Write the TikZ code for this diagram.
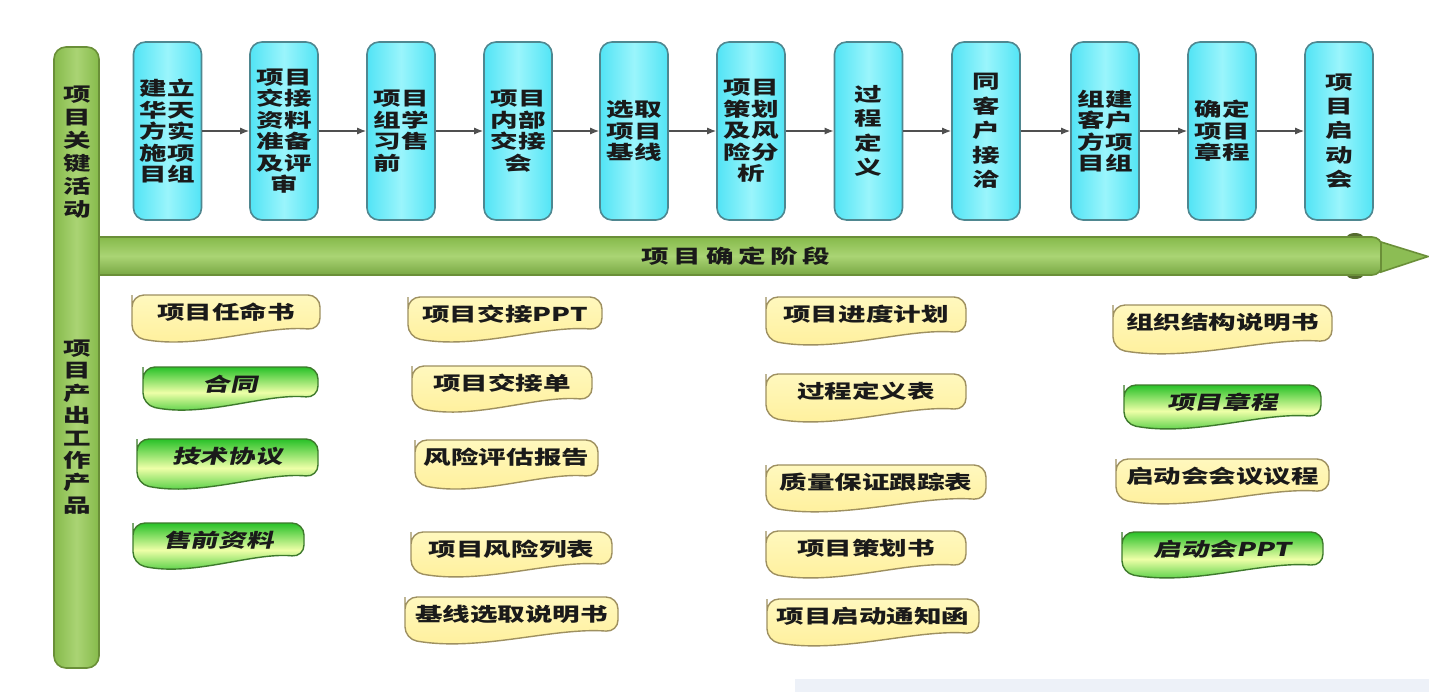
\documentclass[tikz,border=0pt]{standalone}
\usepackage{fontspec}
\newfontfamily\cjk[FakeStretch=1.45]{Noto Sans CJK SC}
\newfontfamily\cjkit[FakeStretch=1.45,FakeSlant=0.22]{Noto Sans CJK SC}
\usetikzlibrary{arrows.meta}
\definecolor{cyanA}{HTML}{52E4F5}
\definecolor{cyanB}{HTML}{9AF5FC}
\definecolor{cyanEdge}{HTML}{4F8790}
\definecolor{barA}{HTML}{86BA4B}
\definecolor{barB}{HTML}{AAD474}
\definecolor{barEdge}{HTML}{6A8F38}
\definecolor{yelA}{HTML}{FFF8BE}
\definecolor{yelB}{HTML}{FFEF98}
\definecolor{yelEdge}{HTML}{9E9060}
\definecolor{grnA}{HTML}{28C128}
\definecolor{grnB}{HTML}{EEFFA8}
\definecolor{grnEdge}{HTML}{3E7A2C}
\definecolor{txt}{HTML}{1A1A1A}
\definecolor{flowc}{HTML}{505050}
\definecolor{bumpc}{HTML}{556B2F}
\definecolor{footc}{HTML}{EDF1F8}
\newcommand\boxfont{\fontsize{9.5}{10.75}\selectfont\cjk\bfseries}
\newcommand\boxfontb{\fontsize{9.5}{12.2}\selectfont\cjk\bfseries}
\newcommand\barfonta{\fontsize{9.5}{11.5}\selectfont\cjk\bfseries}
\newcommand\barfontb{\fontsize{9.5}{11.2}\selectfont\cjk\bfseries}
\newcommand\docfont{\fontsize{9.5}{11}\selectfont\cjk\bfseries}
\newcommand\docfontit{\fontsize{9.5}{11}\selectfont\cjkit\bfseries}
% #1 name, #2 L, #3 R, #4 T, #5 B(right), #6 style, #7 font, #8 text
\newcommand\docbox[8]{%
  \draw[#6] (#2,{#4+12}) [rounded corners=6pt] -- (#2,#4) -- (#3,#4) -- (#3,#5)
     .. controls ({#3-0.3*(#3-#2)},{#5-5}) and ({#2+0.35*(#3-#2)},{#5+20}) .. (#2,{#5+7}) -- cycle;
  \node[doctext,font=#7] (#1) at ({(#2+#3)/2},{#4+17}) {#8};
}
\begin{document}
\begin{tikzpicture}[x=0.5pt,y=-0.5pt,
  stagebox/.style={draw=cyanEdge, line width=0.8pt, rounded corners=6pt,
    left color=cyanA, right color=cyanA, middle color=cyanB,
    minimum width=34pt, minimum height=89pt, inner sep=0pt, align=center,
    font=\boxfont, text=txt},
  stageboxb/.style={stagebox, font=\boxfontb},
  flow/.style={draw=flowc, line width=0.6pt, -{Latex[length=4.5pt,width=3.5pt]}},
  band/.style={draw=barEdge, line width=0.8pt, rounded corners=5pt,
    top color=barA, bottom color=barA!90!black, middle color=barB,
    minimum width=646pt, minimum height=19pt, inner sep=0pt, font=\boxfont, text=txt},
  bar/.style={draw=barEdge, line width=0.8pt, rounded corners=6pt,
    left color=barA, right color=barA, middle color=barB,
    minimum width=22.5pt, minimum height=310.5pt, inner sep=0pt},
  bartext/.style={align=center, inner sep=0pt, text=txt},
  yel/.style={draw=yelEdge, line width=0.7pt, top color=yelA, bottom color=yelB},
  grn/.style={draw=grnEdge, line width=0.7pt, top color=grnA, bottom color=grnA, middle color=grnB},
  doctext/.style={inner sep=0pt, text=txt, align=center}
]
\useasboundingbox (0,0) rectangle (1429,692);
\fill[white] (0,0) rectangle (1429,692);
\fill[footc] (795,679) rectangle (1429,692);

% top stage boxes
\node[stagebox] (b1) at (167.5,131) {建立\\华天\\方实\\施项\\目组};
\node[stagebox] (b2) at (284,131) {项目\\交接\\资料\\准备\\及评\\审};
\node[stagebox] (b3) at (401,131) {项目\\组学\\习售\\前\hphantom{售}};
\node[stagebox] (b4) at (518,131) {项目\\内部\\交接\\会};
\node[stagebox] (b5) at (634,131) {选取\\项目\\基线};
\node[stagebox] (b6) at (751,131) {项目\\策划\\及风\\险分\\析};
\node[stageboxb] (b7) at (868.5,131) {过\\程\\定\\义};
\node[stageboxb] (b8) at (986,131) {同\\客\\户\\接\\洽};
\node[stagebox] (b9) at (1105,131) {组建\\客户\\方项\\目组};
\node[stagebox] (b10) at (1222,131) {确定\\项目\\章程};
\node[stageboxb] (b11) at (1339,131) {项\\目\\启\\动\\会};
\foreach \a/\b in {b1/b2,b2/b3,b3/b4,b4/b5,b5/b6,b6/b7,b7/b8,b8/b9,b9/b10,b10/b11}
  \draw[flow] (\a) -- (\b);

% phase banner
\fill[bumpc] (1355,237) ellipse [x radius=4pt, y radius=2pt];
\fill[bumpc] (1355,275) ellipse [x radius=4pt, y radius=2pt];
\node[band] (band) at (736,256) {项\hspace{2.3pt}目\hspace{2.3pt}确\hspace{2.3pt}定\hspace{2.3pt}阶\hspace{2.3pt}段};
\coordinate (tipA) at (1381,242);
\coordinate (tipB) at (1428,256.5);
\coordinate (tipC) at (1381,272);
\draw[draw=barEdge, line width=0.8pt, fill=barA!95!white] (tipA) -- (tipB) -- (tipC) -- cycle;

% left bar
\node[bar] (bar) at (76.5,357.5) {};
\node[bartext, font=\barfonta] (kact) at (77,152) {项\\目\\关\\键\\活\\动};
\node[bartext, font=\barfontb] (kout) at (77,427) {项\\目\\产\\出\\工\\作\\产\\品};

% work products, column 1
\docbox{d1}{132}{320}{295}{330}{yel}{\docfont}{项目任命书}
\docbox{d2}{143}{318}{367}{398}{grn}{\docfontit}{合同}
\docbox{d3}{137}{318}{439}{477}{grn}{\docfontit}{技术协议}
\docbox{d4}{133}{304}{523}{557}{grn}{\docfontit}{售前资料}
% column 2
\docbox{d5}{408}{602}{297}{330}{yel}{\docfont}{项目交接PPT}
\docbox{d6}{412}{592}{366}{400}{yel}{\docfont}{项目交接单}
\docbox{d7}{415}{598}{440}{477}{yel}{\docfont}{风险评估报告}
\docbox{d8}{411}{612}{532}{565}{yel}{\docfont}{项目风险列表}
\docbox{d9}{405}{618}{597}{632}{yel}{\docfont}{基线选取说明书}
% column 3
\docbox{d10}{766}{966}{297}{333}{yel}{\docfont}{项目进度计划}
\docbox{d11}{766}{966}{374}{410}{yel}{\docfont}{过程定义表}
\docbox{d12}{766}{986}{465}{500}{yel}{\docfont}{质量保证跟踪表}
\docbox{d13}{766}{966}{531}{566}{yel}{\docfont}{项目策划书}
\docbox{d14}{767}{979}{599}{634}{yel}{\docfont}{项目启动通知函}
% column 4
\docbox{d15}{1113}{1332}{305}{342}{yel}{\docfont}{组织结构说明书}
\docbox{d16}{1124}{1321}{385}{417}{grn}{\docfontit}{项目章程}
\docbox{d17}{1116}{1329}{459}{492}{yel}{\docfont}{启动会会议议程}
\docbox{d18}{1122}{1323}{532}{566}{grn}{\docfontit}{启动会PPT}
\end{tikzpicture}
\end{document}
